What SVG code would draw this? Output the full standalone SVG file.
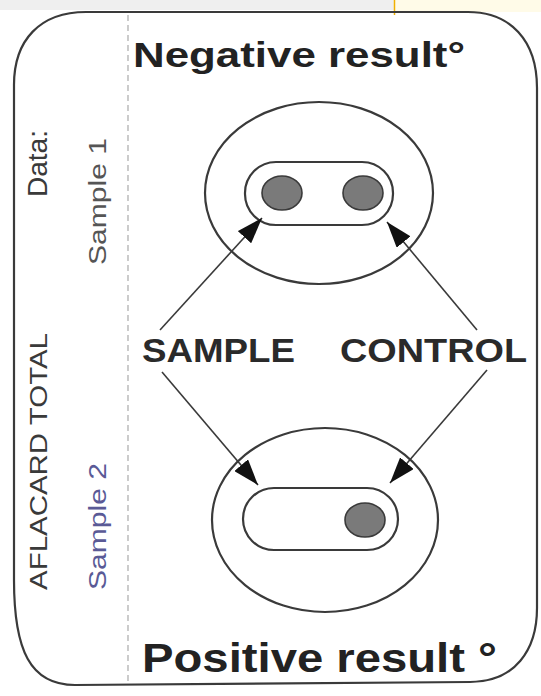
<svg xmlns="http://www.w3.org/2000/svg" width="541" height="696" viewBox="0 0 541 696">
<style>
.line{fill:none;stroke:#3a3a3a;stroke-width:2.2}
.arrow{fill:none;stroke:#3a3a3a;stroke-width:1.6}
.dot{fill:#7a7a7a;stroke:#3a3a3a;stroke-width:1.6}
.big{font-family:"Liberation Sans",Arial,sans-serif;font-weight:bold;fill:#222}
.lbl{font-family:"Liberation Sans",Arial,sans-serif;font-weight:bold;fill:#2a2a2a}
.side{font-family:"Liberation Sans",Arial,sans-serif;fill:#3a3a3a}
</style>
<defs>
<marker id="ah" viewBox="0 0 26 18" refX="26" refY="9" markerWidth="26" markerHeight="18" markerUnits="userSpaceOnUse" orient="auto">
<path d="M0,0 L26,9 L0,18 Z" fill="#111"/>
</marker>
</defs>
<rect x="0" y="0" width="541" height="696" fill="#ffffff"/>
<rect x="0" y="0" width="541" height="10" fill="#efefef"/>
<rect x="395" y="0" width="146" height="12" fill="#fffbe8"/>
<line x1="394.5" y1="0" x2="394.5" y2="15" stroke="#f0b000" stroke-width="1.5"/>
<g id="card">
<path class="line" d="M14,85 C14,40 40,12 86,12 L468,12 C510,12 537,40 537,88 L537,608 C537,650 515,682 470,682 L75,685 C30,685 14,650 14,580 Z" stroke="#333" stroke-width="2.5"/>
<line x1="128" y1="15" x2="128" y2="685" stroke="#aaa" stroke-width="1.2" stroke-dasharray="6,4"/>
</g>
<g id="side-labels">
<text class="side" font-size="27" transform="translate(47,197) rotate(-90)" textLength="67" lengthAdjust="spacingAndGlyphs">Data:</text>
<text class="side" font-size="23" transform="translate(47,590) rotate(-90)" textLength="257" lengthAdjust="spacingAndGlyphs">AFLACARD TOTAL</text>
<text class="side" font-size="23" fill="#555" transform="translate(106,265) rotate(-90)" textLength="127" lengthAdjust="spacingAndGlyphs" style="fill:#555">Sample 1</text>
<text class="side" font-size="23" transform="translate(106,590) rotate(-90)" textLength="127" lengthAdjust="spacingAndGlyphs" style="fill:#5a5a96">Sample 2</text>
</g>
<g id="negative-title">
<text class="big" x="133" y="67" font-size="35" textLength="332" lengthAdjust="spacingAndGlyphs">Negative result°</text>
</g>
<g id="negative-result">
<ellipse class="line" cx="319" cy="193" rx="114" ry="91"/>
<rect class="line" x="245" y="162" width="148" height="63" rx="31" ry="31"/>
<ellipse class="dot" cx="282" cy="193" rx="20" ry="17"/>
<ellipse class="dot" cx="363" cy="193" rx="20" ry="17"/>
</g>
<g id="sample-label">
<text class="lbl" x="142" y="362" font-size="34" textLength="153" lengthAdjust="spacingAndGlyphs">SAMPLE</text>
</g>
<g id="control-label">
<text class="lbl" x="340" y="362" font-size="34" textLength="187" lengthAdjust="spacingAndGlyphs">CONTROL</text>
</g>
<g id="positive-result">
<ellipse class="line" cx="325" cy="520" rx="113" ry="92"/>
<rect class="line" x="243" y="488" width="155" height="62" rx="31" ry="31"/>
<ellipse class="dot" cx="365" cy="520" rx="20" ry="17"/>
</g>
<g id="positive-title">
<text class="big" x="142" y="672" font-size="40" textLength="355" lengthAdjust="spacingAndGlyphs">Positive result °</text>
</g>
<g id="connectors">
<line class="arrow" x1="160" y1="330" x2="262" y2="218" marker-end="url(#ah)"/>
<line class="arrow" x1="477" y1="330" x2="387" y2="222" marker-end="url(#ah)"/>
<line class="arrow" x1="162" y1="372" x2="258" y2="485" marker-end="url(#ah)"/>
<line class="arrow" x1="487" y1="370" x2="390" y2="483" marker-end="url(#ah)"/>
</g>
</svg>
